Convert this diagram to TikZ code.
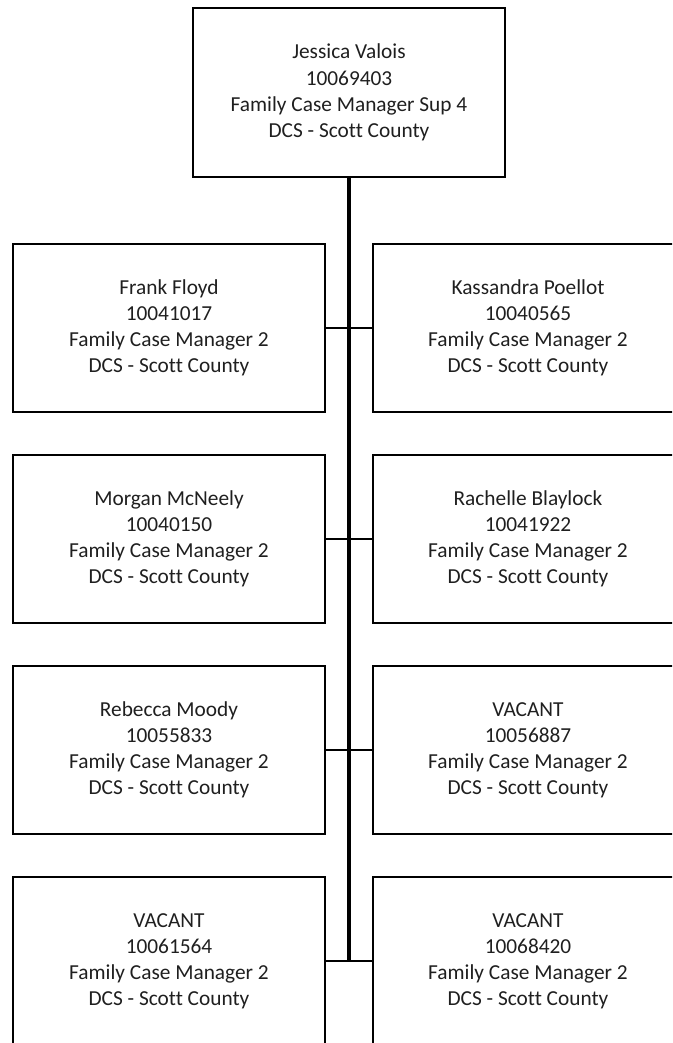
\documentclass[tikz,border=0pt]{standalone}
\usepackage{fontspec}
\setmainfont{Carlito}[Ligatures=NoCommon]
\usepackage{tikz}
\usetikzlibrary{positioning,calc}

\begin{document}
\begin{tikzpicture}[
    x=0.75pt, y=-0.75pt,
    box/.style={rectangle, draw=black, line width=1.5pt, minimum width=234pt, minimum height=126pt,
        align=center, text=black!88, font=\fontsize{16}{19.6}\selectfont, inner sep=0pt},
    link/.style={line width=1.6pt},
    trunk/.style={line width=2.8pt}
]
    \clip (0,0) rectangle (672,1043);

    % Supervisor
    \node[box, minimum height=127pt] (sup) at (349,92.5) {Jessica Valois\\10069403\\Family Case Manager Sup 4\\DCS - Scott County};

    % Left column
    \node[box] (floyd) at (169,328) {Frank Floyd\\10041017\\Family Case Manager 2\\DCS - Scott County};
    \node[box] (mcneely) at (169,539) {Morgan McNeely\\10040150\\Family Case Manager 2\\DCS - Scott County};
    \node[box] (moody) at (169,750) {Rebecca Moody\\10055833\\Family Case Manager 2\\DCS - Scott County};
    \node[box] (vacantc) at (169,961) {VACANT\\10061564\\Family Case Manager 2\\DCS - Scott County};

    % Right column
    \node[box, minimum width=232.5pt] (poellot) at (528,328) {Kassandra Poellot\\10040565\\Family Case Manager 2\\DCS - Scott County};
    \node[box, minimum width=232.5pt] (blaylock) at (528,539) {Rachelle Blaylock\\10041922\\Family Case Manager 2\\DCS - Scott County};
    \node[box, minimum width=232.5pt] (vacanta) at (528,750) {VACANT\\10056887\\Family Case Manager 2\\DCS - Scott County};
    \node[box, minimum width=232.5pt] (vacantb) at (528,961) {VACANT\\10068420\\Family Case Manager 2\\DCS - Scott County};

    % Reporting lines
    \coordinate (bottom) at (sup.south |- vacantc.east);
    \draw[trunk] (sup.south) -- (bottom);
    \draw[link] (floyd.east) -- (poellot.west);
    \draw[link] (mcneely.east) -- (blaylock.west);
    \draw[link] (moody.east) -- (vacanta.west);
    \draw[link] (vacantc.east) -- (vacantb.west);
\end{tikzpicture}
\end{document}
